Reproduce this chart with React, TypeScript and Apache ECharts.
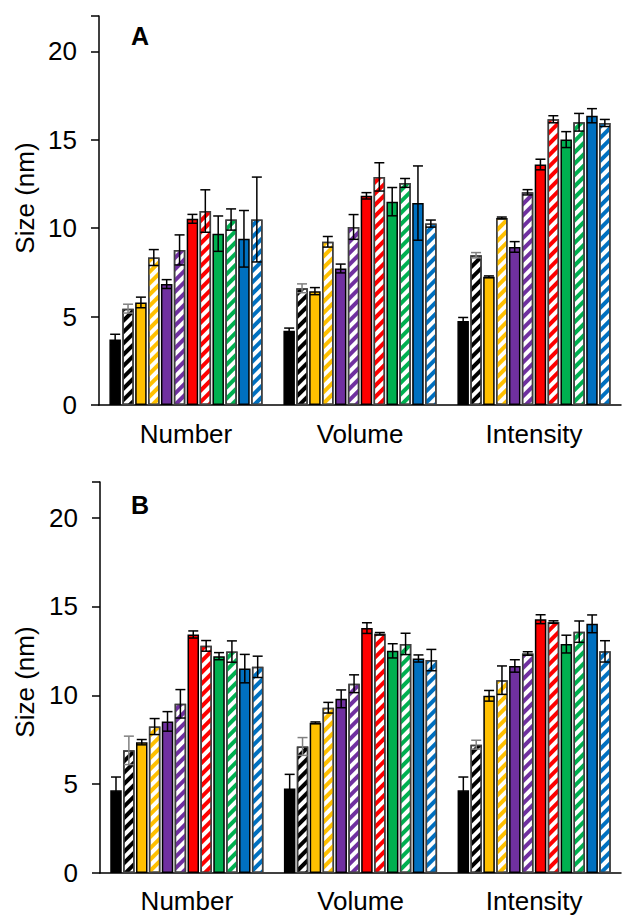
import React, { useEffect, useRef } from "react";
import * as echarts from "echarts";

const categories = ["Number", "Volume", "Intensity"];
const seriesNames = ["Black", "Black (hatched)", "Yellow", "Yellow (hatched)", "Purple", "Purple (hatched)", "Red", "Red (hatched)", "Green", "Green (hatched)", "Blue", "Blue (hatched)"];
const seriesColors = ["#000000", "#000000", "#FFC000", "#FFC000", "#7030A0", "#7030A0", "#FF0000", "#FF0000", "#00B050", "#00B050", "#0070C0", "#0070C0"];
const hatched = [false, true, false, true, false, true, false, true, false, true, false, true];
const yTicks = [0, 5, 10, 15, 20];

// Panel A values [Number, Volume, Intensity]
const aBlack = [3.7, 4.2, 4.75];
const aBlackH = [5.45, 6.6, 8.47];
const aYellow = [5.8, 6.44, 7.25];
const aYellowH = [8.34, 9.23, 10.58];
const aPurple = [6.84, 7.72, 8.94];
const aPurpleH = [8.77, 10.07, 12.03];
const aRed = [10.53, 11.83, 13.6];
const aRedH = [10.97, 12.9, 16.16];
const aGreen = [9.69, 11.5, 15.01];
const aGreenH = [10.49, 12.56, 15.99];
const aBlue = [9.4, 11.42, 16.36];
const aBlueH = [10.49, 10.26, 15.95];
// Panel A errors
const aBlackErr = [0.3, 0.15, 0.2];
const aBlackHErr = [0.25, 0.25, 0.15];
const aYellowErr = [0.3, 0.2, 0.05];
const aYellowHErr = [0.45, 0.3, 0.05];
const aPurpleErr = [0.25, 0.25, 0.3];
const aPurpleHErr = [0.85, 0.7, 0.15];
const aRedErr = [0.25, 0.18, 0.3];
const aRedHErr = [1.2, 0.8, 0.2];
const aGreenErr = [1.0, 0.8, 0.45];
const aGreenHErr = [0.6, 0.25, 0.5];
const aBlueErr = [1.6, 2.1, 0.4];
const aBlueHErr = [2.4, 0.2, 0.2];

// Panel B values
const bBlack = [4.65, 4.75, 4.65];
const bBlackH = [6.9, 7.12, 7.22];
const bYellow = [7.36, 8.45, 9.97];
const bYellowH = [8.24, 9.3, 10.85];
const bPurple = [8.53, 9.8, 11.65];
const bPurpleH = [9.52, 10.65, 12.35];
const bRed = [13.42, 13.78, 14.28];
const bRedH = [12.78, 13.46, 14.12];
const bGreen = [12.2, 12.5, 12.88];
const bGreenH = [12.46, 12.89, 13.58];
const bBlue = [11.5, 12.07, 14.02];
const bBlueH = [11.6, 11.98, 12.47];
// Panel B errors
const bBlackErr = [0.75, 0.8, 0.75];
const bBlackHErr = [0.8, 0.5, 0.25];
const bYellowErr = [0.15, 0.05, 0.3];
const bYellowHErr = [0.45, 0.3, 0.8];
const bPurpleErr = [0.55, 0.5, 0.35];
const bPurpleHErr = [0.8, 0.5, 0.1];
const bRedErr = [0.2, 0.3, 0.25];
const bRedHErr = [0.3, 0.07, 0.07];
const bGreenErr = [0.2, 0.4, 0.5];
const bGreenHErr = [0.6, 0.6, 0.6];
const bBlueErr = [0.8, 0.2, 0.5];
const bBlueHErr = [0.6, 0.6, 0.6];

const panelAValues = [aBlack, aBlackH, aYellow, aYellowH, aPurple, aPurpleH, aRed, aRedH, aGreen, aGreenH, aBlue, aBlueH];
const panelAErrors = [aBlackErr, aBlackHErr, aYellowErr, aYellowHErr, aPurpleErr, aPurpleHErr, aRedErr, aRedHErr, aGreenErr, aGreenHErr, aBlueErr, aBlueHErr];
const panelBValues = [bBlack, bBlackH, bYellow, bYellowH, bPurple, bPurpleH, bRed, bRedH, bGreen, bGreenH, bBlue, bBlueH];
const panelBErrors = [bBlackErr, bBlackHErr, bYellowErr, bYellowHErr, bPurpleErr, bPurpleHErr, bRedErr, bRedHErr, bGreenErr, bGreenHErr, bBlueErr, bBlueHErr];

const FONT = "Liberation Sans, Arial, sans-serif";
const BAR_W = 11.5;
const GAP_RATIO = 0.12;
const N = 12;

function barOffset(i: number) {
  const gap = BAR_W * GAP_RATIO;
  const total = N * BAR_W + (N - 1) * gap;
  return -total / 2 + BAR_W / 2 + i * (BAR_W + gap);
}

function buildSeries(values: number[][], errors: number[][], axisIndex: number) {
  const out: any[] = [];
  values.forEach((vals, i) => {
    const c = seriesColors[i];
    const itemStyle: any = hatched[i]
      ? {
          color: "#ffffff",
          borderColor: "#404040",
          borderWidth: 1.5,
          decal: {
            symbol: "rect",
            symbolSize: 1,
            color: c,
            dashArrayX: [1, 0],
            dashArrayY: [3.5, 4],
            rotation: -Math.PI / 4,
          },
        }
      : { color: c, borderColor: "#000000", borderWidth: 1.5 };
    out.push({
      type: "bar",
      name: seriesNames[i] + (axisIndex === 0 ? " A" : " B"),
      xAxisIndex: axisIndex,
      yAxisIndex: axisIndex,
      barWidth: BAR_W,
      barGap: GAP_RATIO * 100 + "%",
      itemStyle,
      data: vals,
      z: 2,
    });
  });
  const errData: number[][] = [];
  values.forEach((vals, i) => {
    vals.forEach((v, ci) => {
      errData.push([ci, i, v, errors[i][ci]]);
    });
  });
  out.push({
    type: "custom",
    xAxisIndex: axisIndex,
    yAxisIndex: axisIndex,
    z: 10,
    encode: { x: 0, y: 2 },
    data: errData,
    renderItem: (params: any, api: any) => {
      const ci = api.value(0);
      const si = api.value(1);
      const v = api.value(2);
      const e = api.value(3);
      const top = api.coord([ci, v + e]);
      const bot = api.coord([ci, v - e]);
      const x = top[0] + barOffset(si);
      const stroke = si === 1 ? "#808080" : "#000000";
      const st = { stroke, lineWidth: 1.5 };
      return {
        type: "group",
        children: [
          { type: "line", shape: { x1: x, y1: top[1], x2: x, y2: bot[1] }, style: st },
          { type: "line", shape: { x1: x - 5, y1: top[1], x2: x + 5, y2: top[1] }, style: st },
          { type: "line", shape: { x1: x - 5, y1: bot[1], x2: x + 5, y2: bot[1] }, style: st },
        ],
      };
    },
  });
  return out;
}

function makeXAxis(gridIndex: number, margin: number) {
  return {
    type: "category",
    gridIndex,
    data: categories,
    axisTick: { show: false },
    axisLine: { lineStyle: { color: "#000", width: 1.5 } },
    axisLabel: { color: "#000", fontSize: 26, fontFamily: FONT, margin },
  };
}

function makeYAxis(gridIndex: number) {
  return {
    type: "value",
    gridIndex,
    min: yTicks[0],
    max: 22,
    interval: yTicks[1] - yTicks[0],
    splitLine: { show: false },
    axisLine: { show: true, lineStyle: { color: "#000", width: 1.5 } },
    axisTick: { show: true, length: 8, lineStyle: { color: "#000", width: 1.5 } },
    axisLabel: {
      color: "#000",
      fontSize: 26,
      fontFamily: FONT,
      margin: 22,
      formatter: (v: number) => (yTicks.indexOf(v) >= 0 ? String(v) : ""),
    },
  };
}

export default function App() {
  const ref = useRef<HTMLDivElement>(null);
  useEffect(() => {
    if (!ref.current) return;
    const chart = echarts.init(ref.current, undefined, { renderer: "svg" });
    chart.setOption({
      animation: false,
      backgroundColor: "#ffffff",
      grid: [
        { left: 99, right: 5, top: 16, height: 389 },
        { left: 100, right: 5, top: 482, height: 391 },
      ],
      xAxis: [makeXAxis(0, 16), makeXAxis(1, 15)],
      yAxis: [makeYAxis(0), makeYAxis(1)],
      graphic: [
        { type: "text", left: 131, top: 23, style: { text: "A", fontSize: 25, fontWeight: "bold", fontFamily: FONT, fill: "#000" } },
        { type: "text", left: 131, top: 492, style: { text: "B", fontSize: 25, fontWeight: "bold", fontFamily: FONT, fill: "#000" } },
        { type: "text", x: 25, y: 198, rotation: Math.PI / 2, style: { text: "Size (nm)", fontSize: 26, fontFamily: FONT, fill: "#000", align: "center", verticalAlign: "middle" } },
        { type: "text", x: 25, y: 682, rotation: Math.PI / 2, style: { text: "Size (nm)", fontSize: 26, fontFamily: FONT, fill: "#000", align: "center", verticalAlign: "middle" } },
      ],
      series: [...buildSeries(panelAValues, panelAErrors, 0), ...buildSeries(panelBValues, panelBErrors, 1)],
    });
    return () => chart.dispose();
  }, []);
  return <div ref={ref} style={{ position: "absolute", left: 0, top: 0, width: 626, height: 918 }} />;
}
